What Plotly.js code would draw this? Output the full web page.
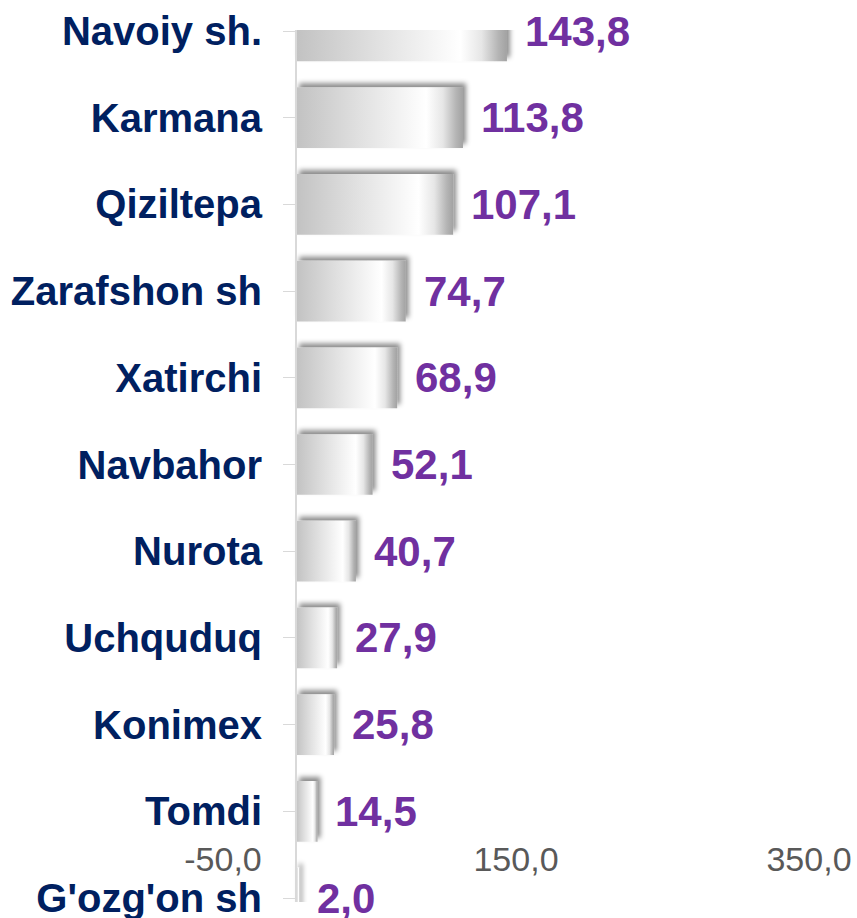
<!DOCTYPE html>
<html>
<head>
<meta charset="utf-8">
<script src="https://cdn.plot.ly/plotly-3.0.1.min.js"></script>
<style>
  html, body { margin: 0; padding: 0; background: #ffffff; }
  #chart { width: 857px; height: 918px; }
</style>
</head>
<body>
<div id="chart"></div>
<script>
const categories = ["Navoiy sh.", "Karmana", "Qiziltepa", "Zarafshon sh", "Xatirchi", "Navbahor", "Nurota", "Uchquduq", "Konimex", "Tomdi", "G'ozg'on sh"];
const values = [143.8, 113.8, 107.1, 74.7, 68.9, 52.1, 40.7, 27.9, 25.8, 14.5, 2.0];
const xTickValues = [-50, 150, 350];
const xTickLabels = ["-50,0", "150,0", "350,0"];

const FONT = '"Liberation Sans", Arial, sans-serif';

const barTrace = {
  type: 'bar',
  orientation: 'h',
  y: categories,
  x: values,
  width: 0.7,
  marker: { color: '#dcdcdc', line: { width: 0 } },
  hoverinfo: 'skip'
};

const annotations = categories.map((c, i) => ({
  x: values[i],
  y: c,
  xref: 'x',
  yref: 'y',
  text: values[i].toFixed(1).replace('.', ','),
  showarrow: false,
  xanchor: 'left',
  yanchor: 'middle',
  xshift: 16,
  font: { family: FONT, size: 42, color: '#7030A0', weight: 700 }
}));

const layout = {
  width: 857,
  height: 918,
  margin: { l: 223, r: 48, t: 30, b: 16, pad: 0 },
  paper_bgcolor: '#ffffff',
  plot_bgcolor: '#ffffff',
  showlegend: false,
  separators: ', ',
  font: { family: FONT },
  xaxis: {
    range: [-50, 350],
    tickmode: 'array',
    tickvals: xTickValues,
    ticktext: xTickLabels,
    showgrid: false,
    zeroline: false,
    showline: false,
    ticks: '',
    tickfont: { family: FONT, size: 34, color: '#595959' },
    anchor: 'free',
    position: 0.0756,
    automargin: false,
    fixedrange: true
  },
  yaxis: {
    type: 'category',
    range: [10.046, -0.0115],
    anchor: 'free',
    position: 0.1246,
    showline: true,
    linecolor: '#d9d9d9',
    linewidth: 2,
    ticks: 'outside',
    ticklen: 12,
    tickwidth: 1,
    tickcolor: '#d9d9d9',
    ticklabelstandoff: 13,
    tickfont: { family: FONT, size: 40, color: '#002060', weight: 700 },
    showgrid: false,
    zeroline: false,
    automargin: false,
    fixedrange: true
  },
  annotations: annotations
};

Plotly.newPlot('chart', [barTrace], layout, { staticPlot: true, displayModeBar: false }).then(gd => {
  const NS = 'http://www.w3.org/2000/svg';
  const svg = gd.querySelector('.main-svg');
  let defs = svg.querySelector('defs');
  if (!defs) { defs = document.createElementNS(NS, 'defs'); svg.insertBefore(defs, svg.firstChild); }

  const grad = document.createElementNS(NS, 'linearGradient');
  grad.setAttribute('id', 'barGrad');
  grad.setAttribute('x1', '0'); grad.setAttribute('y1', '0');
  grad.setAttribute('x2', '1'); grad.setAttribute('y2', '0');
  [[0, '#c2c2c2'], [0.4, '#e2e2e2'], [0.78, '#ffffff'], [0.88, '#e6e6e6'], [0.96, '#b4b4b4'], [1, '#a2a2a2']].forEach(([o, c]) => {
    const s = document.createElementNS(NS, 'stop');
    s.setAttribute('offset', o);
    s.setAttribute('stop-color', c);
    grad.appendChild(s);
  });
  defs.appendChild(grad);

  const filt = document.createElementNS(NS, 'filter');
  filt.setAttribute('id', 'barShadow');
  filt.setAttribute('filterUnits', 'userSpaceOnUse');
  filt.setAttribute('x', '-500'); filt.setAttribute('y', '-500');
  filt.setAttribute('width', '3000'); filt.setAttribute('height', '3000');
  const ds = document.createElementNS(NS, 'feDropShadow');
  ds.setAttribute('dx', '3'); ds.setAttribute('dy', '-4');
  ds.setAttribute('stdDeviation', '2.5');
  ds.setAttribute('flood-color', '#000000');
  ds.setAttribute('flood-opacity', '0.45');
  filt.appendChild(ds);
  defs.appendChild(filt);

  gd.querySelectorAll('.barlayer .point path').forEach(p => {
    p.style.fill = 'url(#barGrad)';
    p.setAttribute('filter', 'url(#barShadow)');
  });
});
</script>
</body>
</html>
